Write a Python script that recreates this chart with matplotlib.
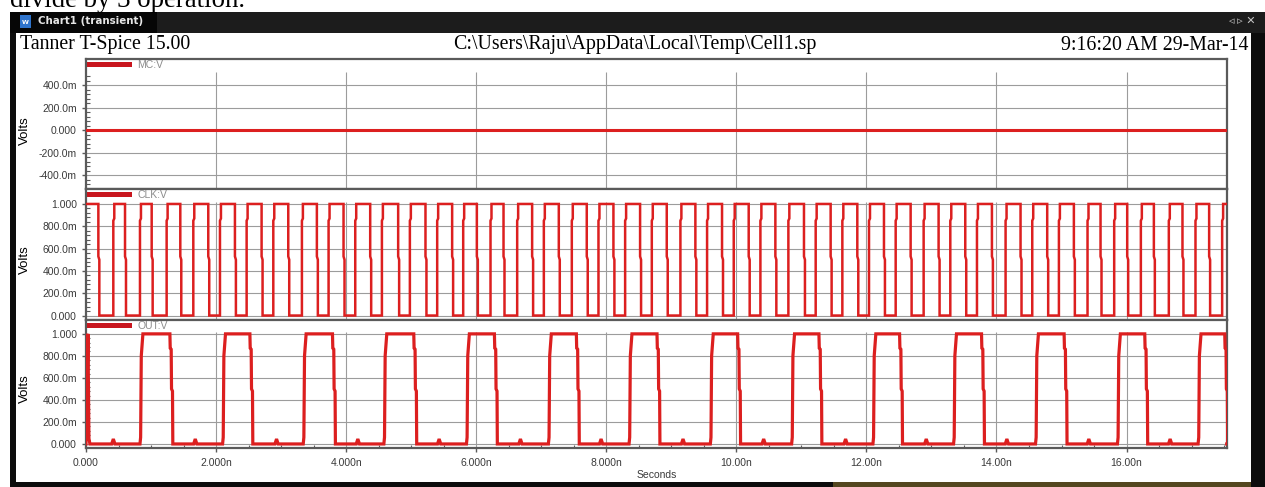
"""
Tanner T-Spice transient chart: MC, CLK and OUT (divide-by-3) traces.
Three stacked panels sharing one time axis, drawn inside a dark window frame.
"""

import matplotlib.pyplot as plt
import matplotlib.transforms as mtransforms
from matplotlib.lines import Line2D
from matplotlib.patches import Rectangle

W, H = 1265, 487
TRACE, LEG_RED = "#dc1f1f", "#c8161e"
FRAME, GRID, TICKTXT, LEGTXT = "#5a5a5a", "#9c9c9c", "#3a3a3a", "#8c8c8c"
SANS = "Liberation Sans"
SERIF = "Liberation Serif"

# ---- data (time in ns, voltage in V) ----
T_END = 17.54
trace_names = ["MC:V", "CLK:V", "OUT:V"]

mc_level = 0.0

clk_fall = [0.19, 0.60, 1.01, 1.45, 1.88, 2.29, 2.70, 3.11, 3.55, 3.96, 4.37, 4.80,
            5.22, 5.63, 6.01, 6.42, 6.86, 7.27, 7.70, 8.11, 8.52, 8.93, 9.37, 9.78,
            10.19, 10.60, 11.04, 11.45, 11.86, 12.27, 12.68, 13.11, 13.52, 13.93,
            14.37, 14.78, 15.19, 15.60, 16.01, 16.42, 16.86, 17.27]
clk_rise = [0.42, 0.83, 1.24, 1.65, 2.06, 2.47, 2.88, 3.32, 3.73, 4.14, 4.55, 4.98,
            5.40, 5.80, 6.22, 6.63, 7.04, 7.47, 7.88, 8.29, 8.70, 9.14, 9.55, 9.96,
            10.37, 10.80, 11.22, 11.63, 12.04, 12.45, 12.88, 13.29, 13.70, 14.14,
            14.55, 14.96, 15.40, 15.81, 16.22, 16.65, 17.06, 17.47]

out_glitch = [0.42, 1.68, 2.93, 4.18, 5.43, 6.68, 7.92, 9.18, 10.42, 11.68, 12.92,
              14.16, 15.42, 16.67]
out_rise = [0.83, 2.10, 3.34, 4.58, 5.85, 7.11, 8.35, 9.60, 10.85, 12.10, 13.34,
            14.60, 15.86, 17.10]
out_fall = [1.29, 2.52, 3.79, 5.04, 6.28, 7.54, 8.78, 10.02, 11.27, 12.51, 13.77,
            15.04, 16.28, 17.51]

x_ticks = [0, 2, 4, 6, 8, 10, 12, 14, 16]
x_labels = ["0.000", "2.000n", "4.000n", "6.000n", "8.000n", "10.00n", "12.00n",
            "14.00n", "16.00n"]
mc_ticks = [-0.4, -0.2, 0.0, 0.2, 0.4]
mc_labels = ["-400.0m", "-200.0m", "0.000", "200.0m", "400.0m"]
v_ticks = [0.0, 0.2, 0.4, 0.6, 0.8, 1.0]
v_labels = ["0.000", "200.0m", "400.0m", "600.0m", "800.0m", "1.000"]


def clk_wave():
    # edges carry the small kinks the simulator shows part way up/down
    k = 0.015
    t, v = [0.0], [1.0]
    for f, r in zip(clk_fall, clk_rise):
        t += [f, f, f + k, f + k, r, r, r + k, r + k]
        v += [1.0, 0.53, 0.50, 0.0, 0.0, 0.85, 0.87, 1.0]
    t.append(T_END)
    v.append(1.0)
    return t, v


def out_wave():
    t = [0.0, 0.01, 0.02, 0.03, 0.045, 0.06]
    v = [0.0, 1.0, 0.6, 1.0, 0.05, 0.0]
    for g, r, f in zip(out_glitch, out_rise, out_fall):
        t += [g - 0.025, g, g + 0.025]
        v += [0.0, 0.045, 0.0]
        t += [r, r + 0.01, r + 0.02, r + 0.045]
        v += [0.0, 0.06, 0.80, 1.0]
        t += [f, f + 0.005, f + 0.02, f + 0.025, f + 0.04, f + 0.045]
        v += [1.0, 0.87, 0.86, 0.50, 0.48, 0.0]
    t.append(T_END)
    v.append(0.0)
    return t, v


def fx(x):
    return x / W


def fy(y):
    return 1 - y / H


def box(fig, x0, y0, x1, y1, color, **kw):
    fig.add_artist(Rectangle((fx(x0), fy(y1)), fx(x1) - fx(x0), fy(y0) - fy(y1),
                             transform=fig.transFigure, color=color, lw=0, **kw))


fig = plt.figure(figsize=(W / 100, H / 100), dpi=100, facecolor="white")

# ---- window chrome ----
fig.text(fx(10), fy(7.3), "divide by 3 operation.", family=SERIF, fontsize=19.3,
         va="baseline", ha="left", color="black")
box(fig, 10, 11.5, W, 33, "#1c1c1c")
box(fig, 10, 12, 157, 33, "#060606")
box(fig, 20, 15, 31, 28, "#2f74cc")
fig.text(fx(25.5), fy(22), "W", color="white", fontsize=4.5, fontweight="bold",
         ha="center", va="center", family="DejaVu Sans")
fig.text(fx(38), fy(21.5), "Chart1 (transient)", color="#e6e6e6", fontsize=7.4,
         fontweight="bold", family="DejaVu Sans", ha="left", va="center")
fig.text(fx(1256), fy(21.5), "\u25c3 \u25b9 \u2715", color="#c4c4c4", fontsize=8,
         family="DejaVu Sans", ha="right", va="center")
box(fig, 10, 33, 16, H, "#0c0c0c")
box(fig, 1251, 33, W, H, "#0c0c0c")
box(fig, 10, 482, W, H, "#0c0c0c")
box(fig, 833, 482, 1251, H, "#54461f")

fig.text(fx(20), fy(49.5), "Tanner T-Spice 15.00", family=SERIF, fontsize=14.3,
         va="baseline", ha="left")
fig.text(fx(635), fy(49.5), r"C:\Users\Raju\AppData\Local\Temp\Cell1.sp", family=SERIF,
         fontsize=14.3, va="baseline", ha="center")
fig.text(fx(1248), fy(49.5), "9:16:20 AM 29-Mar-14", family=SERIF, fontsize=14.3,
         va="baseline", ha="right")

# ---- panels ----
L, R = 86, 1226.7
panels = [(59, 189, (-0.52, 0.631), 0.515, mc_ticks, mc_labels, 0.0),
          (189, 320, (-0.04, 1.134), 1.02, v_ticks, v_labels, 0.5),
          (320, 447.7, (-0.034, 1.126), 1.02, v_ticks, v_labels, 0.5)]
traces = [([0.0, T_END], [mc_level, mc_level], 2.2), clk_wave() + (1.8,),
          out_wave() + (2.3,)]

axes = []
for (top, bot, ylim, grid_top, yt, yl, label_y), (tt, vv, lw), name in zip(
        panels, traces, trace_names):
    ax = fig.add_axes([fx(L), fy(bot), fx(R) - fx(L), fy(top) - fy(bot)])
    ax.set_xlim(0, T_END)
    ax.set_ylim(*ylim)
    for s in ax.spines.values():
        s.set_color(FRAME)
        s.set_linewidth(1.6)

    ax.set_yticks(yt)
    ax.set_yticklabels(yl, family=SANS, fontsize=7.5, color=TICKTXT)
    step = (yt[1] - yt[0]) / 5
    n = int(round((yt[-1] - yt[0]) / step))
    ax.set_yticks([yt[0] - 2 * step + i * step for i in range(n + 5)
                   if ylim[0] < yt[0] - 2 * step + i * step < grid_top], minor=True)
    ax.tick_params(axis="y", which="major", direction="out", length=2.9, width=1,
                   color=FRAME, pad=3.6)
    ax.tick_params(axis="y", which="minor", direction="in", length=2.9, width=0.8,
                   color=FRAME)
    ax.grid(axis="y", which="major", color=GRID, lw=0.8)
    ax.vlines(x_ticks[1:], ylim[0], grid_top, color=GRID, lw=0.8, zorder=1.5)
    ax.set_axisbelow(True)

    ax.plot(tt, vv, color=TRACE, lw=lw, solid_joinstyle="miter", zorder=3)

    ax.set_ylabel("Volts", family=SANS, fontsize=9.5, color="black", va="center")
    ax.yaxis.set_label_coords(-0.0535, label_y,
                              transform=mtransforms.blended_transform_factory(
                                  ax.transAxes, ax.transData))
    ax.legend(handles=[Line2D([], [], color=LEG_RED, lw=3.6)], labels=[name],
              loc="upper left", bbox_to_anchor=(0.0015, 1.0), borderaxespad=0,
              borderpad=0.1, frameon=False, handlelength=3.85, handletextpad=0.8,
              prop={"family": SANS, "size": 7.5}, labelcolor=LEGTXT)
    ax.set_xticks(x_ticks)
    ax.tick_params(axis="x", bottom=False, labelbottom=False)
    axes.append(ax)

ax3 = axes[-1]
ax3.set_xticks(x_ticks)
ax3.set_xticklabels(x_labels, family=SANS, fontsize=7.5, color=TICKTXT)
ax3.set_xticks([i * 0.5 for i in range(36) if i % 4], minor=True)
ax3.tick_params(axis="x", which="major", bottom=True, labelbottom=True,
                direction="out", length=2.9, width=1, color=FRAME, pad=4.4)
ax3.tick_params(axis="x", which="minor", bottom=True, direction="in", length=2.2,
                width=0.8, color=FRAME)
ax3.set_xlabel("Seconds", family=SANS, fontsize=7.5, color=TICKTXT, labelpad=1.5)

fig.savefig("out.png", dpi=100, facecolor="white")
